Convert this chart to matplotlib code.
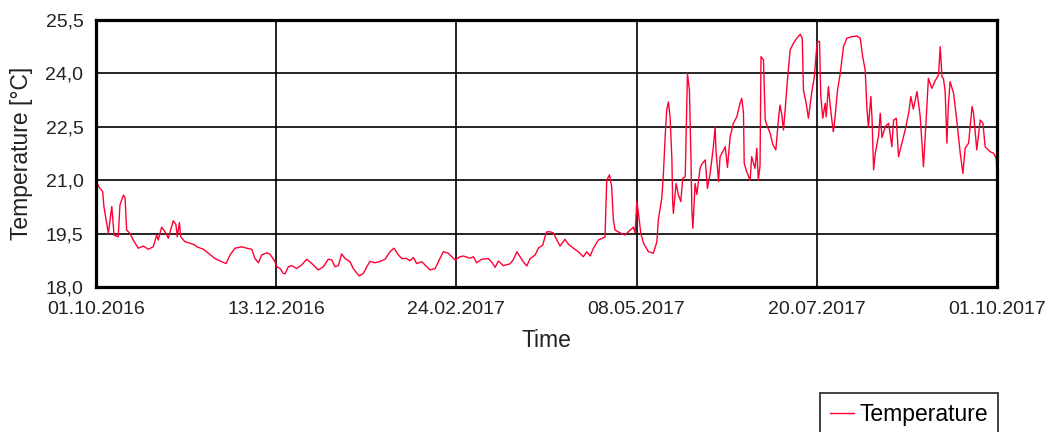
import numpy as np
import pandas as pd
import matplotlib
matplotlib.use("Agg")
import matplotlib.pyplot as plt
import matplotlib.dates as mdates
from matplotlib.ticker import FuncFormatter

plt.rcParams['font.family'] = ['Liberation Sans', 'DejaVu Sans']

# days since 01.10.2016 and room temperature
day_offset = [
    0, 0.5, 1.6, 2.7, 3.2, 4.1, 5.0, 6.4, 7.3, 9.0,
    9.7, 11.1, 11.8, 12.4, 13.8, 15.1, 17.1, 19.2, 21.2, 23.2,
    24.6, 25.2, 26.6, 28.0, 29.3, 31.3, 32.4, 32.9, 33.8, 34.3,
    36.1, 38.1, 40.1, 40.8, 43.5, 45.5, 48.2, 50.9, 52.7, 54.3,
    56.3, 59.0, 61.1, 63.1, 64.4, 65.8, 67.1, 69.2, 70.5, 72.5,
    73.2, 74.6, 75.9, 76.6, 77.9, 79.3, 81.3, 83.3, 85.4, 87.4,
    90.1, 92.1, 94.1, 95.5, 96.8, 98.2, 99.5, 100.9, 102.9, 104.2,
    106.6, 108.3, 109.7, 111.0, 113.0, 115.1, 117.1, 119.1, 120.7, 122.5,
    123.8, 125.9, 127.2, 128.6, 129.9, 132.0, 133.3, 135.3, 137.4, 138.7,
    140.7, 142.7, 143.4, 145.5, 147.5, 148.8, 151.5, 152.9, 154.2, 156.3,
    158.9, 160.3, 161.7, 163.0, 165.0, 167.7, 169.0, 170.5, 171.8, 173.1,
    174.5, 175.9, 177.9, 179.2, 181.0, 181.9, 182.6, 184.0, 185.3, 186.7,
    188.0, 190.0, 191.4, 193.4, 195.4, 197.4, 198.8, 200.2, 201.5, 203.5,
    206.2, 206.9, 208.0, 208.9, 209.6, 210.3, 212.3, 214.3, 216.4, 217.7,
    218.4, 219.1, 219.7, 220.7, 221.8, 223.8, 225.8, 227.2, 227.8, 229.2,
    229.9, 230.6, 231.2, 231.9, 232.6, 233.3, 233.6, 233.9, 235.0, 235.9,
    236.9, 237.7, 238.7, 239.6, 240.4, 241.0, 241.4, 241.8, 242.7, 243.4,
    244.7, 245.4, 246.8, 247.7, 248.8, 250.1, 250.8, 251.2, 252.2, 252.8,
    253.9, 254.9, 255.8, 256.9, 258.2, 259.6, 260.9, 261.6, 262.3, 262.6,
    263.6, 265.0, 265.6, 267.0, 267.7, 268.3, 269.0, 269.4, 270.4, 271.1,
    272.0, 273.1, 274.2, 275.4, 276.5, 277.1, 277.8, 278.5, 279.2, 280.1,
    281.2, 282.5, 283.9, 285.3, 286.1, 286.6, 287.7, 288.6, 290.0, 291.0,
    291.8, 292.3, 293.1, 293.6, 294.4, 295.4, 295.8, 296.7, 297.4, 298.1,
    298.7, 299.4, 300.4, 301.5, 302.8, 304.2, 306.2, 308.2, 309.6, 310.6,
    311.6, 312.3, 312.9, 313.9, 314.4, 315.0, 315.7, 317.0, 317.7, 318.4,
    319.7, 321.1, 322.4, 323.1, 324.2, 325.1, 326.5, 327.8, 329.2, 330.1,
    331.1, 332.6, 333.9, 335.2, 336.3, 337.2, 338.6, 340.0, 341.3, 342.0,
    342.7, 343.3, 344.0, 344.7, 345.3, 346.0, 347.4, 348.7, 350.1, 351.2,
    352.1, 353.5, 354.9, 355.5, 356.8, 358.2, 359.3, 360.2, 362.2, 363.6,
    364.7, 365.0,
]
temp_c = [
    21.33, 20.91, 20.77, 20.68, 20.26, 19.88, 19.51, 20.26, 19.46, 19.41,
    20.30, 20.58, 20.50, 19.60, 19.50, 19.32, 19.09, 19.15, 19.06, 19.13,
    19.46, 19.32, 19.68, 19.55, 19.37, 19.86, 19.75, 19.41, 19.81, 19.41,
    19.27, 19.23, 19.18, 19.13, 19.06, 18.95, 18.80, 18.71, 18.66, 18.90,
    19.09, 19.13, 19.09, 19.06, 18.80, 18.68, 18.90, 18.96, 18.92, 18.71,
    18.57, 18.52, 18.38, 18.37, 18.57, 18.60, 18.52, 18.62, 18.78, 18.66,
    18.48, 18.57, 18.78, 18.76, 18.57, 18.60, 18.93, 18.80, 18.71, 18.52,
    18.31, 18.38, 18.57, 18.72, 18.68, 18.72, 18.78, 18.99, 19.09, 18.90,
    18.80, 18.80, 18.74, 18.83, 18.66, 18.71, 18.62, 18.48, 18.52, 18.71,
    18.99, 18.95, 18.90, 18.76, 18.85, 18.87, 18.81, 18.85, 18.68, 18.78,
    18.80, 18.70, 18.55, 18.73, 18.60, 18.65, 18.76, 18.99, 18.85, 18.71,
    18.59, 18.80, 18.90, 19.09, 19.18, 19.41, 19.55, 19.55, 19.52, 19.32,
    19.15, 19.34, 19.20, 19.09, 18.99, 18.85, 18.99, 18.87, 19.09, 19.32,
    19.40, 21.00, 21.15, 20.82, 19.88, 19.60, 19.52, 19.46, 19.60, 19.68,
    19.52, 20.40, 20.10, 19.51, 19.23, 18.99, 18.95, 19.27, 19.88, 20.49,
    21.24, 22.27, 22.97, 23.20, 22.74, 21.57, 20.40, 20.07, 20.91, 20.60,
    20.40, 21.05, 21.10, 24.00, 23.53, 21.66, 20.16, 19.65, 20.91, 20.60,
    21.33, 21.45, 21.57, 20.77, 21.19, 21.94, 22.50, 21.80, 20.96, 21.66,
    21.80, 21.94, 21.36, 22.22, 22.60, 22.78, 23.16, 23.30, 22.88, 21.47,
    21.24, 21.00, 21.66, 21.33, 21.90, 21.00, 21.40, 24.47, 24.38, 22.69,
    22.50, 22.32, 22.00, 21.85, 22.74, 23.11, 22.85, 22.41, 23.00, 23.81,
    24.66, 24.84, 24.99, 25.10, 24.99, 23.53, 23.16, 22.74, 23.49, 23.90,
    24.61, 24.89, 24.90, 23.39, 22.74, 23.16, 22.78, 23.63, 23.12, 22.69,
    22.36, 22.78, 23.53, 24.00, 24.75, 24.99, 25.03, 25.05, 24.99, 24.47,
    24.10, 23.02, 22.50, 23.35, 22.69, 21.29, 21.76, 22.24, 22.88, 22.20,
    22.50, 22.60, 21.94, 22.69, 22.74, 21.66, 22.05, 22.41, 22.88, 23.35,
    23.00, 23.49, 22.78, 21.38, 22.69, 23.86, 23.58, 23.80, 23.95, 24.75,
    23.90, 23.86, 23.49, 22.04, 23.12, 23.77, 23.44, 22.69, 21.76, 21.19,
    21.90, 22.04, 23.07, 22.88, 21.85, 22.69, 22.60, 21.94, 21.80, 21.76,
    21.61, 21.15,
]
assert len(day_offset) == len(temp_c)

start = pd.Timestamp("2016-10-01")
end = pd.Timestamp("2017-10-01")
tick_dates = ["2016-10-01", "2016-12-13", "2017-02-24", "2017-05-08", "2017-07-20", "2017-10-01"]
y_ticks = [18.0, 19.5, 21.0, 22.5, 24.0, 25.5]

times = start + pd.to_timedelta(day_offset, unit="D")

fig = plt.figure(figsize=(10.53, 4.32), dpi=100)
ax = fig.add_axes([96/1053, 1 - 287/432, 901/1053, 267/432])

ax.plot(times, temp_c, color="#ff0033", lw=1.0, label="Temperature")

ax.set_xlim(start, end)
ax.set_ylim(18.0, 25.5)
ax.set_xticks(pd.to_datetime(tick_dates))
ax.xaxis.set_major_formatter(mdates.DateFormatter("%d.%m.%Y"))
ax.set_yticks(y_ticks)
ax.yaxis.set_major_formatter(FuncFormatter(lambda v, p: f"{v:.1f}".replace(".", ",")))

ax.grid(True, color="black", lw=1.2)
ax.set_axisbelow(True)
for s in ax.spines.values():
    s.set_linewidth(2.3)
    s.set_color("black")
ax.tick_params(length=0, labelsize=14, colors="#222222")
ax.tick_params(axis="x", pad=10)
ax.tick_params(axis="y", pad=9)

ax.set_xlabel("Time", fontsize=16.5, color="#222222", labelpad=8)
ax.set_ylabel("Temperature [°C]", fontsize=16.5, color="#222222", labelpad=9)

leg = fig.legend(loc="upper left", bbox_to_anchor=(820/1053, 1 - 393/432),
                 fontsize=16.5, frameon=True, fancybox=False, handlelength=1.05,
                 handletextpad=0.25, borderpad=0.42, borderaxespad=0)
leg.get_frame().set_edgecolor("black")
leg.get_frame().set_linewidth(1.3)

fig.savefig("out.png", dpi=100)
